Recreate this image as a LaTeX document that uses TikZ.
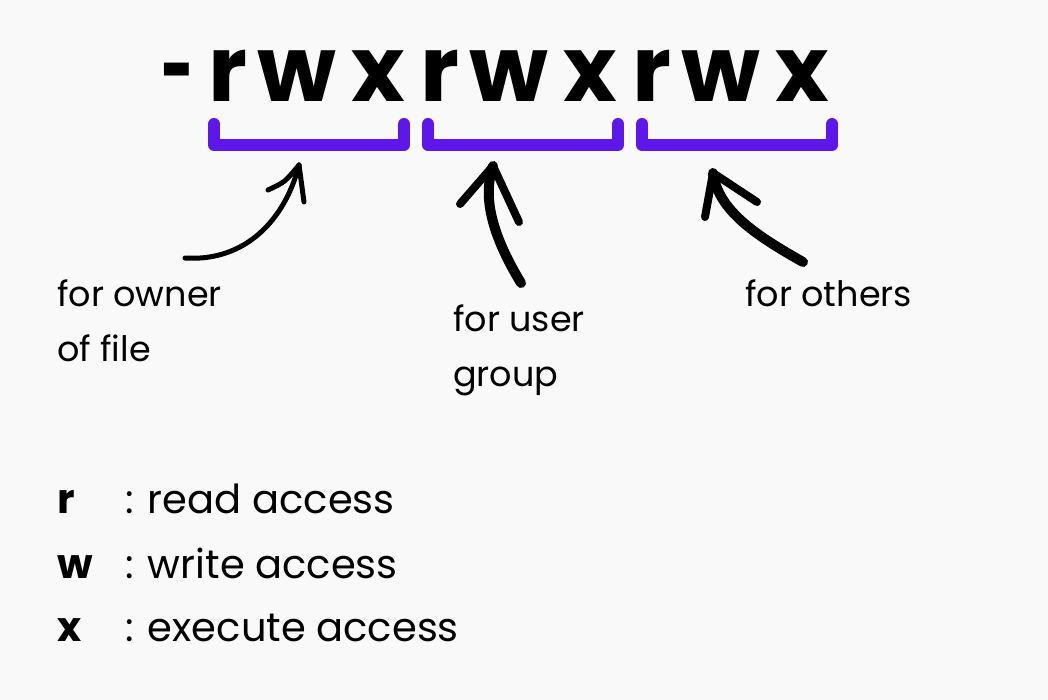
\documentclass[tikz,border=0pt]{standalone}
\usepackage{fontspec}
\setmainfont{Poppins}
\usetikzlibrary{positioning}
\definecolor{bracketpurple}{HTML}{5E17EB}
\definecolor{paper}{HTML}{F9F9F9}

\begin{document}
\begin{tikzpicture}[
    x=1pt, y=-1pt,
    perm/.style={inner sep=0pt, anchor=base, font=\fontsize{91}{91}\selectfont\bfseries},
    note/.style={inner sep=0pt, anchor=base west, align=left, font=\fontsize{35}{55}\selectfont},
    keyletter/.style={inner sep=0pt, anchor=base west, font=\fontsize{41}{41}\selectfont\bfseries},
    keytext/.style={inner sep=0pt, anchor=base west, font=\fontsize{40}{40}\selectfont},
    brace/.style={bracketpurple, line width=12pt, line cap=round, line join=round},
    brush/.style={line width=8pt, line cap=round, line join=round}
]
\fill[paper] (0,0) rectangle (1048,700);
\useasboundingbox (0,0) rectangle (1048,700);

% permission string
\node[perm, xscale=0.62] (dash) at (178,102) {-};
\foreach \g in {0,1,2} {
    \node[perm] (r\g) at ({228+212*\g},102) {r};
    \node[perm] (w\g) at ({297+212*\g},102) {w};
    \node[perm] (x\g) at ({378+212*\g},102) {x};
    \draw[brace] ({214+214*\g},124) -- ({214+214*\g},145) -- ({404+214*\g},145) -- ({404+214*\g},124);
}

% labels (base is the last line)
\node[note] (owner) at (57,361) {for owner\\of file};
\node[note] (group) at (453,386) {for user\\group};
\node[note] (others) at (745,306) {for others};

% arrows
\coordinate (ownertail) at (185,258);
\coordinate (ownertip) at (299,165);
\coordinate (grouptail) at (521,283);
\coordinate (grouptip) at (493,166);
\coordinate (otherstail) at (803,262);
\coordinate (otherstip) at (713,173);
\draw[brush, line width=5pt] (ownertail) .. controls (245,262) and (285,220) .. (ownertip);
\draw[brush, line width=5pt] (ownertip) .. controls (285,182) .. (268,190);
\draw[brush, line width=5pt] (ownertip) -- (304,202);
\draw[brush, line width=10pt] (grouptail) .. controls (490,232) and (483,195) .. (grouptip);
\draw[brush] (grouptip) -- (460,204);
\draw[brush] (grouptip) -- (519,222);
\draw[brush, line width=10pt] (otherstail) .. controls (755,235) and (718,210) .. (otherstip);
\draw[brush] (otherstip) -- (705,217);
\draw[brush] (otherstip) -- (757,202);

% legend
\foreach \k/\txt/\y in {r/read/513, w/write/578, x/execute/641} {
    \node[keyletter] (key\k) at (57,\y) {\k};
    \node[keytext] (desc\k) at (125,\y) {: \txt\ access};
}
\end{tikzpicture}
\end{document}
